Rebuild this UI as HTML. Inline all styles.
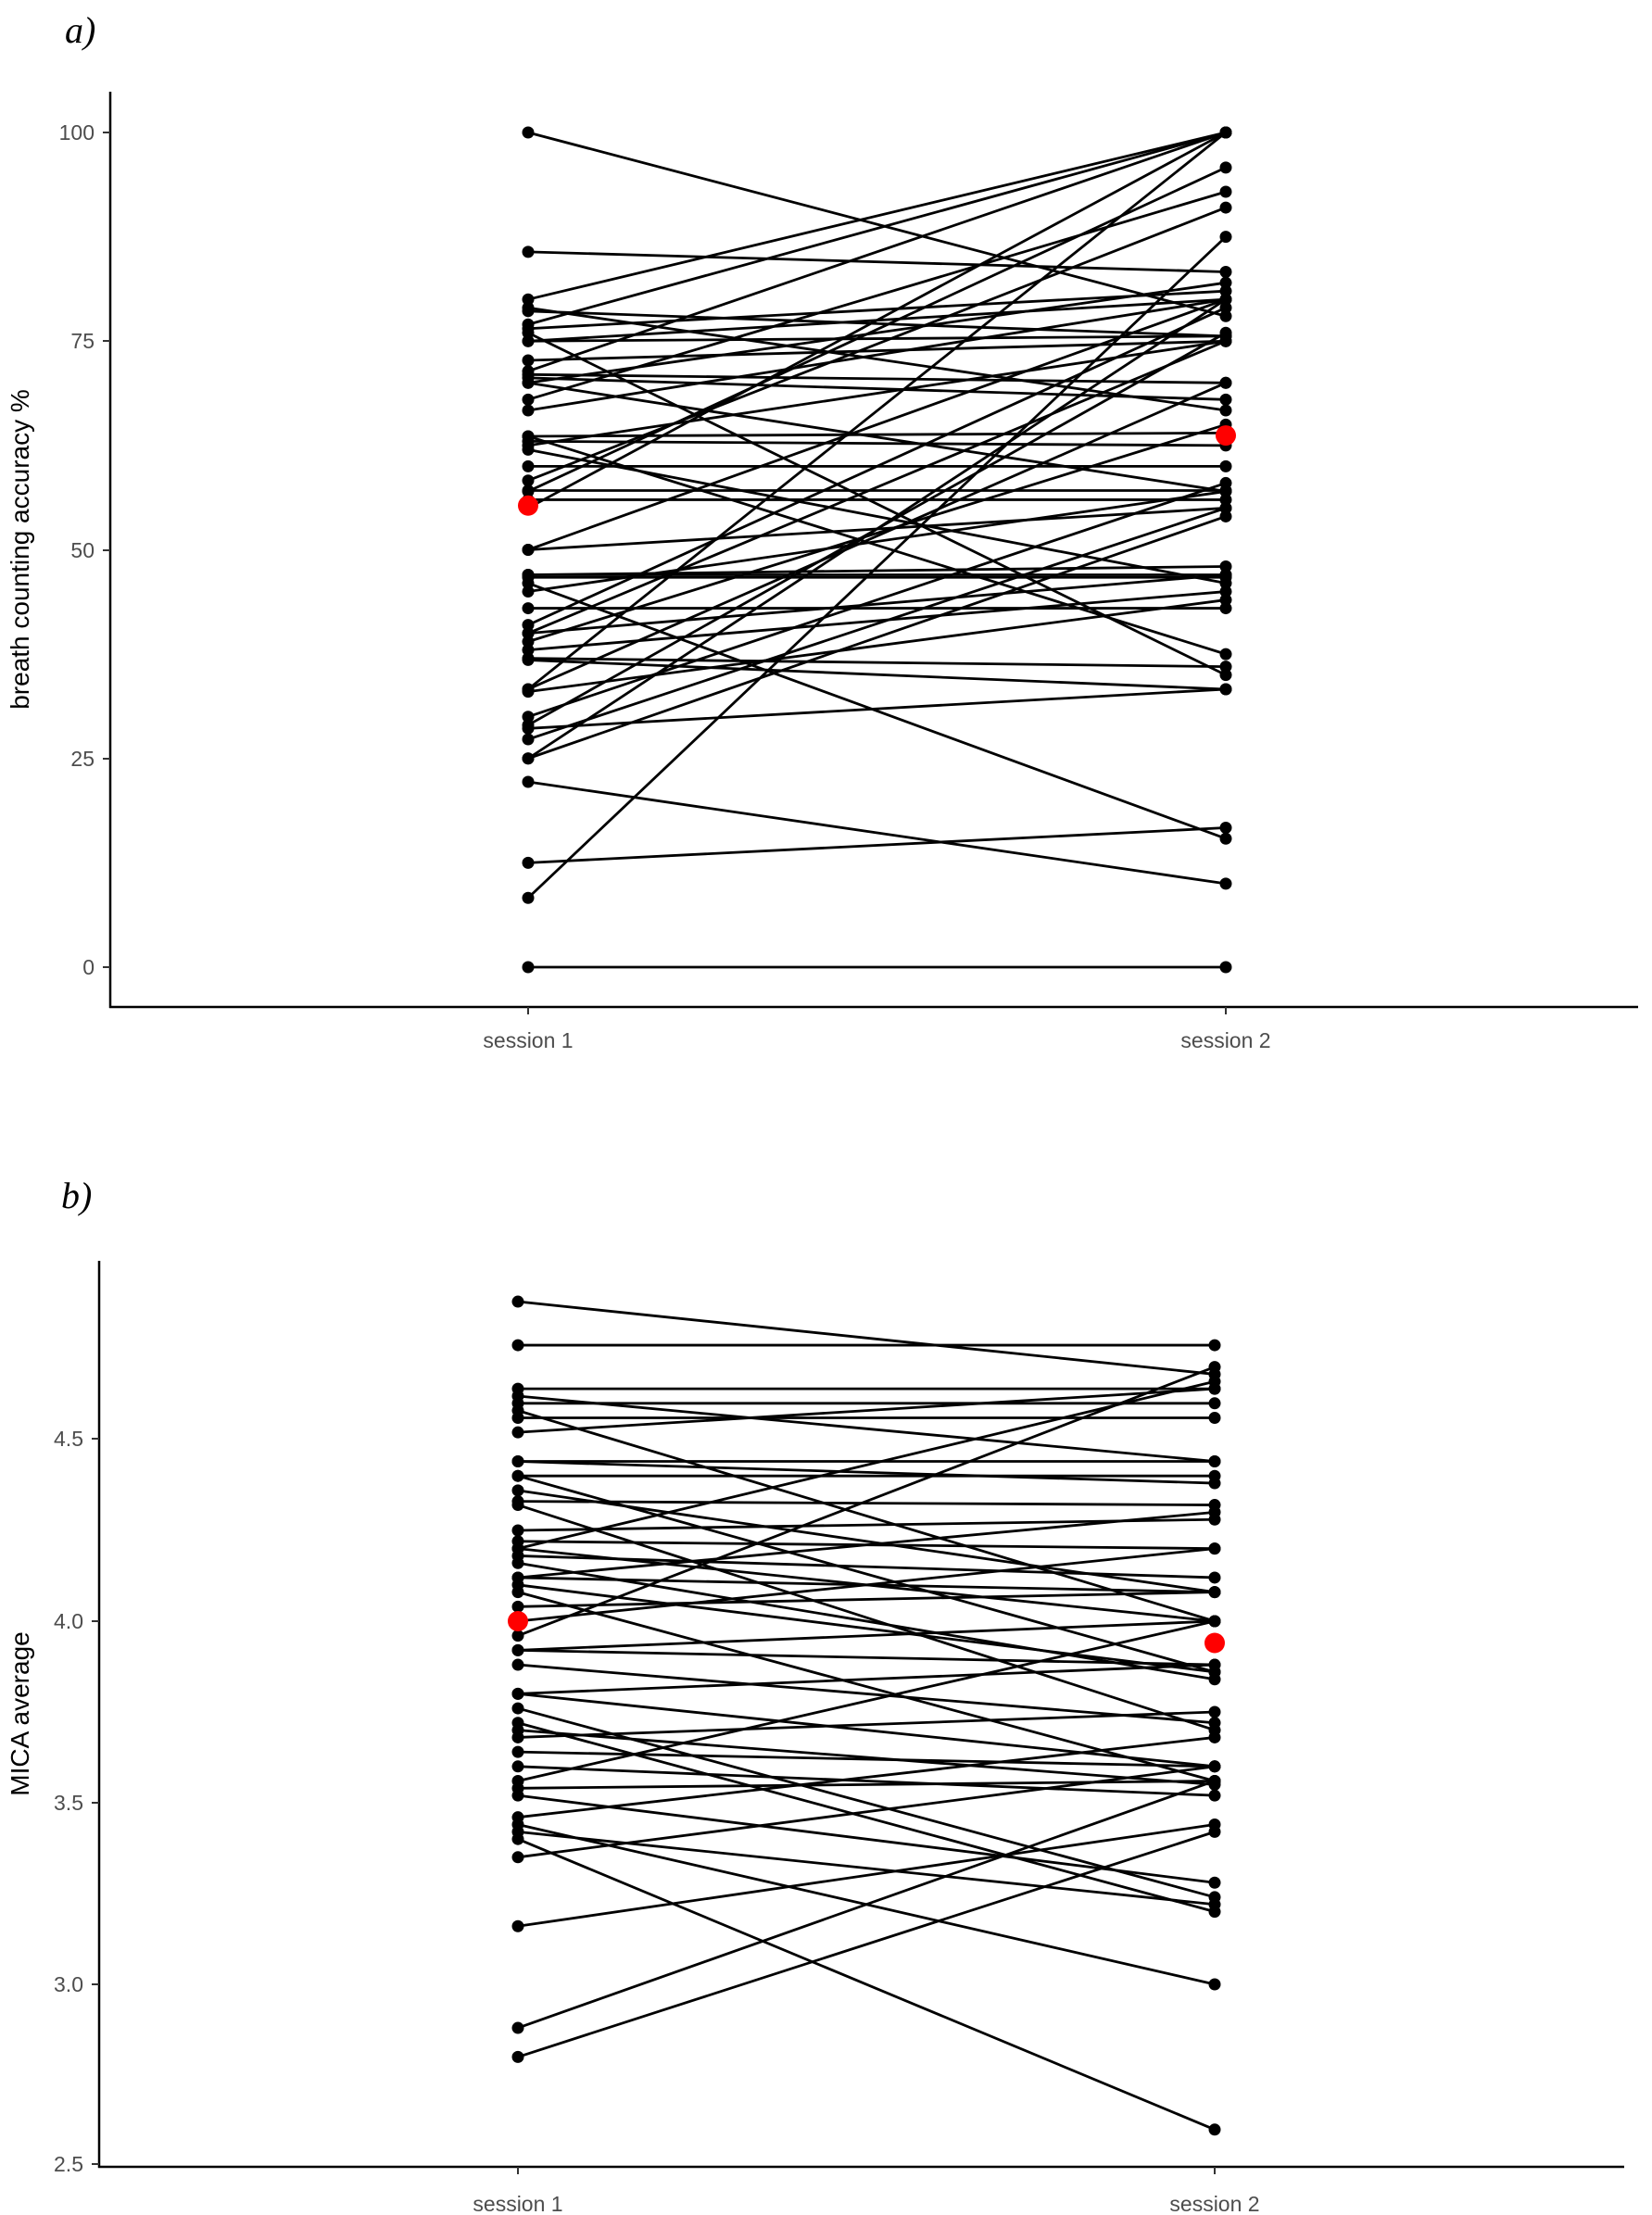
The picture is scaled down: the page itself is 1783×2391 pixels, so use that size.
<!DOCTYPE html>
<html><head><meta charset="utf-8"><style>
html,body{margin:0;padding:0;background:#fff;}
svg{display:block;}
.t{font-family:"Liberation Sans",sans-serif;font-size:23px;fill:#4d4d4d;}
.ti{font-family:"Liberation Sans",sans-serif;font-size:28px;fill:#000;}
.p{font-family:"Liberation Serif",serif;font-style:italic;font-size:40px;fill:#000;}
</style></head><body>
<svg id="s" width="1783" height="2391" viewBox="0 0 1783 2391" xmlns="http://www.w3.org/2000/svg">
<rect width="1783" height="2391" fill="#fff"/>
<text class="p" x="70" y="46">a)</text>
<text class="p" x="66" y="1304">b)</text>
<line x1="119" y1="99" x2="119" y2="1088" stroke="#000" stroke-width="2.5"/>
<line x1="118" y1="1087" x2="1768" y2="1087" stroke="#000" stroke-width="2.5"/>
<g class="t" text-anchor="end">
<text x="102" y="151">100</text><text x="102" y="376">75</text><text x="102" y="602">50</text><text x="102" y="827">25</text><text x="102" y="1052">0</text>
</g>
<g stroke="#333" stroke-width="2"><line x1="111" y1="143" x2="119" y2="143"/><line x1="111" y1="368" x2="119" y2="368"/><line x1="111" y1="594" x2="119" y2="594"/><line x1="111" y1="819" x2="119" y2="819"/><line x1="111" y1="1044" x2="119" y2="1044"/>
<line x1="570" y1="1087" x2="570" y2="1095"/><line x1="1323" y1="1087" x2="1323" y2="1095"/></g>
<text class="t" x="570" y="1131" text-anchor="middle">session 1</text>
<text class="t" x="1323" y="1131" text-anchor="middle">session 2</text>
<text class="ti" transform="translate(31,593) rotate(-90)" text-anchor="middle">breath counting accuracy %</text>
<line x1="107" y1="1361" x2="107" y2="2340" stroke="#000" stroke-width="2.5"/>
<line x1="106" y1="2339" x2="1753" y2="2339" stroke="#000" stroke-width="2.5"/>
<g class="t" text-anchor="end">
<text x="90" y="1561">4.5</text><text x="90" y="1758">4.0</text><text x="90" y="1954">3.5</text><text x="90" y="2150">3.0</text><text x="90" y="2344">2.5</text>
</g>
<g stroke="#333" stroke-width="2"><line x1="99" y1="1553" x2="107" y2="1553"/><line x1="99" y1="1750" x2="107" y2="1750"/><line x1="99" y1="1946" x2="107" y2="1946"/><line x1="99" y1="2142" x2="107" y2="2142"/><line x1="99" y1="2336" x2="107" y2="2336"/>
<line x1="559" y1="2339" x2="559" y2="2347"/><line x1="1311" y1="2339" x2="1311" y2="2347"/></g>
<text class="t" x="559" y="2387" text-anchor="middle">session 1</text>
<text class="t" x="1311" y="2387" text-anchor="middle">session 2</text>
<text class="ti" transform="translate(31,1850) rotate(-90)" text-anchor="middle">MICA average</text>
<g id="ga"></g><g id="gb"></g>
</svg>
<script>
var NS="http://www.w3.org/2000/svg";
function draw(g,pairs,x1,x2,fy,red){
 var el=document.getElementById(g);
 pairs.forEach(function(p){
  var l=document.createElementNS(NS,"line");
  l.setAttribute("x1",x1);l.setAttribute("y1",fy(p[0]));l.setAttribute("x2",x2);l.setAttribute("y2",fy(p[1]));
  l.setAttribute("stroke","#000");l.setAttribute("stroke-width","2.8");el.appendChild(l);
 });
 pairs.forEach(function(p){
  [[x1,p[0]],[x2,p[1]]].forEach(function(q){
   var c=document.createElementNS(NS,"circle");
   c.setAttribute("cx",q[0]);c.setAttribute("cy",fy(q[1]));c.setAttribute("r","6.5");c.setAttribute("fill","#000");el.appendChild(c);
  });
 });
 [[x1,red[0]],[x2,red[1]]].forEach(function(q){
  var c=document.createElementNS(NS,"circle");
  c.setAttribute("cx",q[0]);c.setAttribute("cy",fy(q[1]));c.setAttribute("r","11");c.setAttribute("fill","#ff0000");el.appendChild(c);
 });
}
var A=[[100,78],[85.7,83.3],[80,100],[79,66.7],[78.6,75.6],[77,100],[76.5,81],[76,35],[75,80],[72.7,75],[71.4,100],[71,70],[70.6,68],[70,57],[68,92.9],[66.7,80],[63.6,64],[63,62.5],[62.5,75],[62,46],[60,60],[58.3,91],[57.1,57.1],[56,56],[55,100],[50,80],[50,55],[47,47],[46.7,46.7],[46,15.4],[45,57],[43,43],[41,79],[40,75],[40,47],[39,65],[38,45],[37,36],[36.8,33.3],[33.3,100],[33.3,70],[33,44],[30,58],[29,76],[28.6,33.3],[27.3,55],[25,80],[25,54],[22.2,10],[12.5,16.7],[8.3,87.5],[0,0],[63.6,37.5],[70,82],[75,75.6],[57,95.8],[47,48]];
var B=[[4.88,4.68],[4.76,4.76],[4.64,4.64],[4.62,4.44],[4.6,4.6],[4.58,4.0],[4.56,4.56],[4.52,4.64],[4.44,4.44],[4.4,4.4],[4.4,3.86],[4.36,4.08],[4.33,4.32],[4.32,3.7],[4.25,4.28],[4.22,4.2],[4.2,4.0],[4.2,4.66],[4.18,4.12],[4.16,3.84],[4.12,4.08],[4.08,3.56],[4.04,4.08],[4.0,4.2],[3.96,4.7],[3.92,4.0],[3.92,3.88],[3.88,3.72],[3.8,3.88],[3.8,3.6],[3.76,3.24],[3.72,3.2],[3.7,3.55],[3.68,3.75],[3.64,3.6],[3.6,3.52],[3.56,4.0],[3.54,3.56],[3.52,3.28],[3.46,3.68],[3.44,3.0],[3.42,3.22],[3.4,2.6],[3.35,3.6],[3.16,3.44],[2.88,3.56],[2.8,3.42],[4.1,3.86],[4.44,4.38],[4.12,4.3]];
draw("ga",A,570,1323,function(v){return 1044-v*9.01;},[55.3,63.7]);
draw("gb",B,559,1311,function(v){return 1750-(v-4)*392;},[4.0,3.94]);
</script>
</body></html>
